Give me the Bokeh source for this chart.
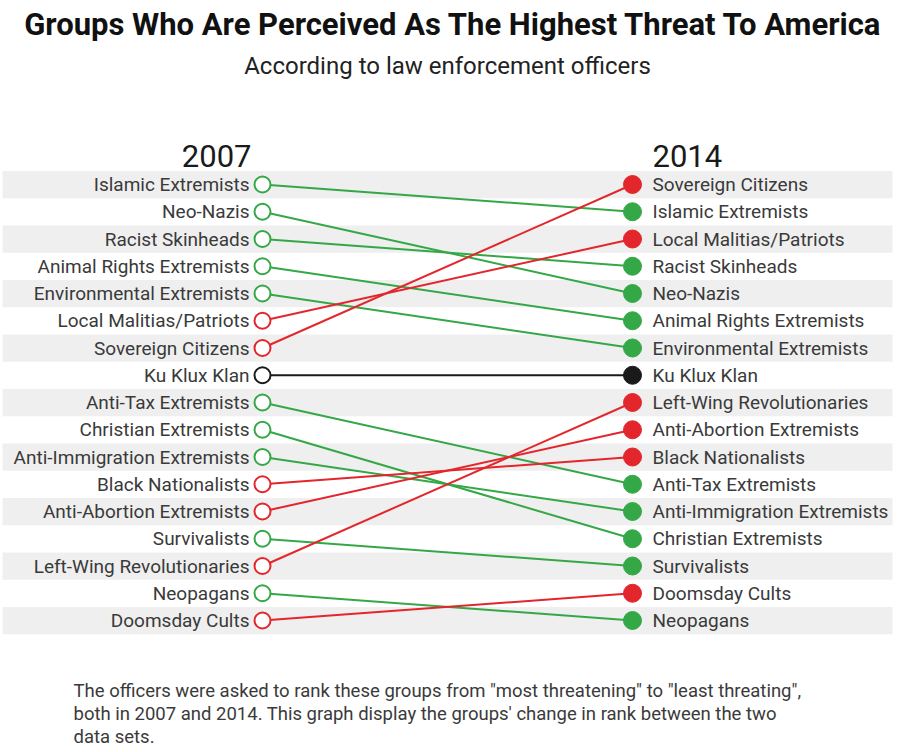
from bokeh.plotting import figure
from bokeh.models import Range1d, Label, ColumnDataSource
from bokeh.core.properties import value
from bokeh.embed import file_html
from bokeh.resources import INLINE

# ---- data ----
groups_2007 = [
    "Islamic Extremists", "Neo-Nazis", "Racist Skinheads", "Animal Rights Extremists",
    "Environmental Extremists", "Local Malitias/Patriots", "Sovereign Citizens",
    "Ku Klux Klan", "Anti-Tax Extremists", "Christian Extremists",
    "Anti-Immigration Extremists", "Black Nationalists", "Anti-Abortion Extremists",
    "Survivalists", "Left-Wing Revolutionaries", "Neopagans", "Doomsday Cults",
]
groups_2014 = [
    "Sovereign Citizens", "Islamic Extremists", "Local Malitias/Patriots",
    "Racist Skinheads", "Neo-Nazis", "Animal Rights Extremists",
    "Environmental Extremists", "Ku Klux Klan", "Left-Wing Revolutionaries",
    "Anti-Abortion Extremists", "Black Nationalists", "Anti-Tax Extremists",
    "Anti-Immigration Extremists", "Christian Extremists", "Survivalists",
    "Doomsday Cults", "Neopagans",
]
years = ["2007", "2014"]
title_text = "Groups Who Are Perceived As The Highest Threat To America"
subtitle_text = "According to law enforcement officers"
footer_lines = [
    "The officers were asked to rank these groups from \"most threatening\" to \"least threating\",",
    "both in 2007 and 2014. This graph display the groups' change in rank between the two",
    "data sets.",
]

# ---- styling / layout ----
GREEN = "#34a846"
RED = "#e3262b"
BLACK = "#1a1a1a"
TXT = "#3a3a3a"
BAND = "#efefef"
FONT = "Roboto"
W, H = 897, 752
LEFT_X, RIGHT_X = 262, 632
ROW = 27.25
TOP_WIN, OFF = 184, 0

n = len(groups_2007)
r_top = 1 - (TOP_WIN - OFF) / ROW
r_bottom = r_top + H / ROW

rank07 = {g: i + 1 for i, g in enumerate(groups_2007)}
rank14 = {g: i + 1 for i, g in enumerate(groups_2014)}

def col(g):
    a, b = rank07[g], rank14[g]
    if b < a:
        return RED
    if b > a:
        return GREEN
    return BLACK

src = ColumnDataSource(dict(
    name=groups_2007,
    r07=[rank07[g] for g in groups_2007],
    r14=[rank14[g] for g in groups_2007],
    x0=[LEFT_X] * n,
    x1=[RIGHT_X] * n,
    color=[col(g) for g in groups_2007],
))
right_src = ColumnDataSource(dict(
    name=groups_2014,
    r14=[rank14[g] for g in groups_2014],
    x=[RIGHT_X + 20] * n,
))
left_src = ColumnDataSource(dict(
    name=groups_2007,
    r07=[rank07[g] for g in groups_2007],
    x=[LEFT_X - 13] * n,
))

p = figure(width=W, height=H, output_backend="svg", toolbar_location=None,
           x_range=Range1d(OFF, OFF + W), y_range=Range1d(r_bottom, r_top),
           min_border=0, outline_line_color=None)
p.axis.visible = False
p.grid.visible = False
p.background_fill_color = "white"
p.border_fill_color = "white"

# bands
BX0, BX1 = 2, 892
band_ranks = [r for r in range(1, n + 1) if r % 2 == 1]
p.rect(x=[(BX0 + BX1) / 2] * len(band_ranks), y=band_ranks, width=BX1 - BX0,
       height=1, fill_color=BAND, line_color=None)

# lines
p.segment(x0="x0", y0="r07", x1="x1", y1="r14", source=src,
          line_color="color", line_width=2)
# dots
p.scatter(x="x0", y="r07", source=src, size=16, fill_color="white",
          line_color="color", line_width=2)
p.scatter(x="x1", y="r14", source=src, size=18, fill_color="color",
          line_color="color", line_width=1)

# labels
p.text(x="x", y="r07", text="name", source=left_src, text_align="right",
       text_baseline="middle", text_font=value(FONT), text_font_size="19px",
       text_color=TXT)
p.text(x="x", y="r14", text="name", source=right_src, text_align="left",
       text_baseline="middle", text_font=value(FONT), text_font_size="19px",
       text_color=TXT)

# year headers
hdr_y = r_top + (155 - OFF) / ROW
p.text(x=[LEFT_X - 11], y=[hdr_y], text=[years[0]], text_align="right",
       text_baseline="middle", text_font=value(FONT), text_font_size="31px",
       text_color="#1a1a1a")
p.text(x=[RIGHT_X + 20], y=[hdr_y], text=[years[1]], text_align="left",
       text_baseline="middle", text_font=value(FONT), text_font_size="31px",
       text_color="#1a1a1a")

def sy(win_y):
    return H - (win_y - OFF)

p.add_layout(Label(x=453 - OFF, y=sy(24), x_units="screen", y_units="screen",
                   text=title_text, text_align="center", text_baseline="middle",
                   text_font=FONT, text_font_style="bold", text_font_size="31px",
                   text_color="#111111"))
p.add_layout(Label(x=447 - OFF, y=sy(65), x_units="screen", y_units="screen",
                   text=subtitle_text, text_align="center", text_baseline="middle",
                   text_font=FONT, text_font_size="24px", text_color="#222222"))
for i, line in enumerate(footer_lines):
    p.add_layout(Label(x=73 - OFF, y=sy(690 + i * 23), x_units="screen",
                       y_units="screen", text=line, text_align="left",
                       text_baseline="middle", text_font=FONT,
                       text_font_size="18.5px", text_color=TXT))

open("out.html", "w").write(file_html(p, INLINE))
